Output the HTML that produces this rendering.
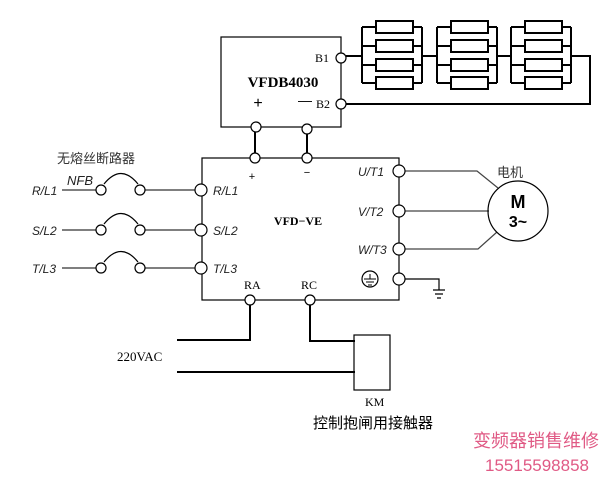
<!DOCTYPE html>
<html><head><meta charset="utf-8"><style>
html,body{margin:0;padding:0;background:#fff;}
svg{display:block;}
text{font-family:"Liberation Sans","Noto Sans CJK SC",sans-serif;}
.s{font-family:"Liberation Serif","Noto Serif CJK SC",serif;}
</style></head><body>
<svg width="612" height="479" viewBox="0 0 612 479" xmlns="http://www.w3.org/2000/svg">
<g fill="none" stroke="#000" stroke-width="1.2">
<rect x="221" y="37" width="120" height="90"/>
<g stroke-width="2">
<g id="bank">
<path d="M362,27 V83 M422,27 V83 M362,27 H376 M413,27 H422 M362,46 H376 M413,46 H422 M362,65 H376 M413,65 H422 M362,83 H376 M413,83 H422"/>
<rect x="376" y="21" width="37" height="12"/><rect x="376" y="40" width="37" height="12"/><rect x="376" y="59" width="37" height="12"/><rect x="376" y="77" width="37" height="12"/>
</g>
<use href="#bank" x="75"/>
<use href="#bank" x="149"/>
<path d="M346,56 H362 M422,56 H437 M497,56 H511 M571,56 H590 V104 H346"/>
<path d="M255,132 V158 M307,134 V158"/>
<path d="M250,304 V340 H177 M310,304 V341 H355 M177,372 H355"/>
</g>
<rect x="202" y="158" width="197" height="142"/>
<path d="M62,190 H96 M145,190 H196 M62,230 H96 M145,230 H196 M62,268 H96 M145,268 H196" stroke="#333"/>
<path d="M104,184 Q121,163 138,184 M104,224 Q121,203 138,224 M104,262 Q121,241 138,262"/>
<path d="M404,171 H477 L498,188 M404,211 H489 M404,249 H478 L497,232" stroke="#444"/>
<path d="M404,279 H439 V290 M433,290 H445 M435,294 H443 M437,298 H441"/>
<circle cx="518" cy="211" r="30"/>
<circle cx="370" cy="279" r="8"/>
<path d="M364,279 H376 M366,282 H374 M368,285 H372 M370,274 V279" stroke-width="1"/>
<rect x="354" y="335" width="36" height="55"/>
<g fill="#fff">
<circle cx="101" cy="190" r="5"/><circle cx="140" cy="190" r="5"/>
<circle cx="101" cy="230" r="5"/><circle cx="140" cy="230" r="5"/>
<circle cx="101" cy="268" r="5"/><circle cx="140" cy="268" r="5"/>
<circle cx="201" cy="190" r="6"/><circle cx="201" cy="230" r="6"/><circle cx="201" cy="268" r="6"/>
<circle cx="399" cy="171" r="6"/><circle cx="399" cy="211" r="6"/><circle cx="399" cy="249" r="6"/><circle cx="399" cy="279" r="6"/>
<circle cx="255" cy="158" r="5"/><circle cx="307" cy="158" r="5"/>
<circle cx="256" cy="127" r="5"/><circle cx="307" cy="129" r="5"/>
<circle cx="341" cy="58" r="5"/><circle cx="341" cy="104" r="5"/>
<circle cx="250" cy="300" r="5"/><circle cx="310" cy="300" r="5"/>
</g>
</g>
<g fill="#000">
<text x="283" y="87" class="s" font-size="15" font-weight="bold" text-anchor="middle">VFDB4030</text>
<text x="258" y="108" font-size="16" text-anchor="middle">+</text>
<text x="298" y="105" font-size="14">—</text>
<text x="316" y="108" class="s" font-size="12">B2</text>
<text x="315" y="62" class="s" font-size="12">B1</text>
<text x="252" y="180" font-size="11" text-anchor="middle">+</text>
<text x="307" y="176" font-size="11" text-anchor="middle">−</text>
<text x="298" y="225" class="s" font-size="12" font-weight="bold" text-anchor="middle">VFD−VE</text>
<g font-size="12" font-style="italic" fill="#222">
<text x="32" y="195">R/L1</text><text x="32" y="235">S/L2</text><text x="32" y="273">T/L3</text>
<text x="213" y="195">R/L1</text><text x="213" y="235">S/L2</text><text x="213" y="273">T/L3</text>
<text x="358" y="176">U/T1</text><text x="358" y="216">V/T2</text><text x="358" y="254">W/T3</text>
<text x="67" y="185" font-size="13">NFB</text>
</g>
<text x="57" y="163" font-size="13" fill="#333">无熔丝断路器</text>
<text x="497" y="177" font-size="13" fill="#333">电机</text>
<text x="518" y="208" font-size="18" font-weight="bold" text-anchor="middle">M</text>
<text x="518" y="227" font-size="16" font-weight="bold" text-anchor="middle">3~</text>
<text x="244" y="289" class="s" font-size="12">RA</text>
<text x="301" y="289" class="s" font-size="12">RC</text>
<text x="117" y="361" class="s" font-size="13">220VAC</text>
<text x="365" y="406" class="s" font-size="12">KM</text>
<text x="313" y="428" font-size="15">控制抱闸用接触器</text>
<text x="473" y="447" font-size="18" fill="#e05a85">变频器销售维修</text>
<text x="485" y="471" font-size="17" fill="#e05a85">15515598858</text>
</g>
</svg>
</body></html>
